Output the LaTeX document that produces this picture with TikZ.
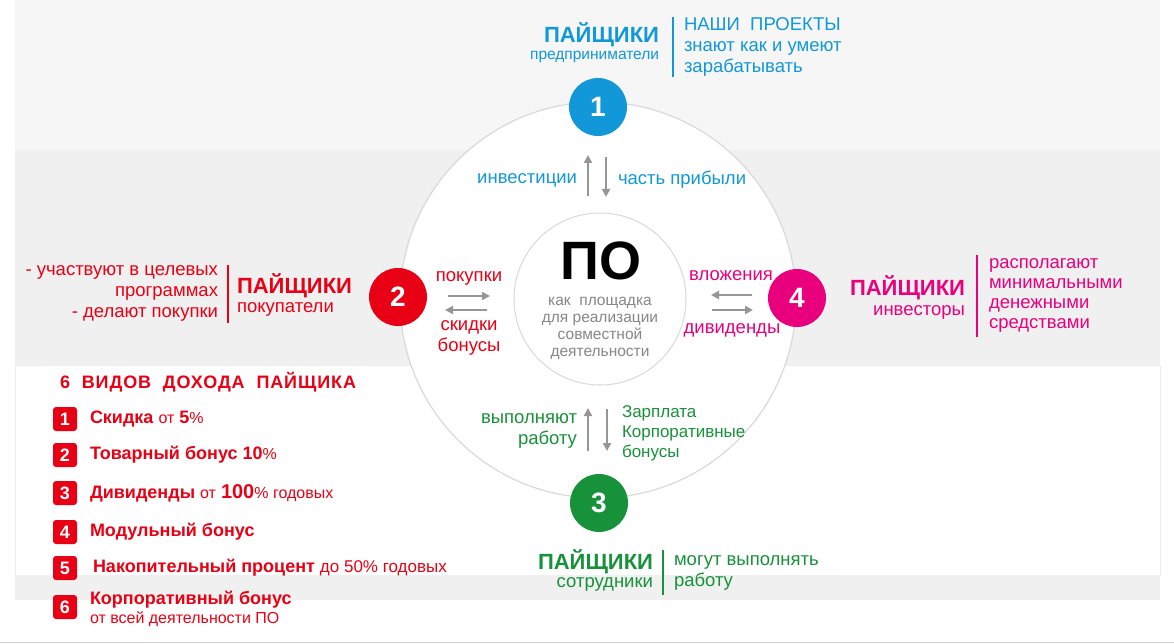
\documentclass[tikz,border=0pt]{standalone}
\usepackage{fontspec}
\setmainfont{Liberation Sans}
\newfontfamily\spacedfont[LetterSpace=5]{Liberation Sans}
\usetikzlibrary{arrows.meta}
\definecolor{pblue}{RGB}{18,152,216}
\definecolor{pred}{RGB}{232,0,20}
\definecolor{ppink}{RGB}{232,0,124}
\definecolor{pgreen}{RGB}{24,146,58}
\definecolor{pgray}{RGB}{135,135,135}
\definecolor{arrgray}{RGB}{150,150,150}
\definecolor{bgtop}{RGB}{246,246,246}
\definecolor{bgmid}{RGB}{240,240,240}
\newcommand\lite[1]{{\mdseries\fontsize{16}{18}\selectfont #1}}

\begin{document}
\begin{tikzpicture}[x=1pt, y=-1pt,
  every node/.style={inner sep=0pt, outer sep=0pt},
  title/.style={font=\bfseries\fontsize{22}{24}\selectfont},
  txt/.style={font=\fontsize{18.5}{21}\selectfont},
  gtxt/.style={font=\fontsize{15.5}{17}\selectfont, text=pgray},
  num/.style={circle, minimum size=58pt, text=white, font=\bfseries\fontsize{28}{30}\selectfont},
  badge/.style={fill=pred, rounded corners=3pt, minimum size=24pt, text=white, font=\bfseries\fontsize{18}{18}\selectfont},
  item/.style={anchor=west, text=pred, align=left, font=\bfseries\fontsize{18}{19}\selectfont},
  flow/.style={draw=arrgray, line width=2pt, -{Triangle[length=8pt,width=8pt]}},
  sep/.style={line width=1.5pt}]
  % Background bands
  \useasboundingbox (0,0) rectangle (1174,644);
  \fill[white] (0,0) rectangle (1174,644);
  \fill[bgtop] (15,0) rectangle (1160,150);
  \fill[bgmid] (15,150) rectangle (1160,365);
  \filldraw[fill=white, draw=black!7] (15,365) rectangle (1160,575);
  \fill[bgmid] (15,575) rectangle (1160,600);
  \draw[black!18] (0,642) -- (1174,642);

  % Ring and centre
  \filldraw[fill=white, draw=black!15, line width=1.2pt] (598,300) circle (198);
  \filldraw[fill=white, draw=black!15, line width=1pt] (600,299) circle (86);
  \node[font=\bfseries\fontsize{54}{54}\selectfont] (po) at (601,261) {ПО};
  \node[gtxt, align=center] (pol) at (600,328) {как\ \ площадка\\для реализации\\совместной\\деятельности};

  % Numbered circles
  \node[num, fill=pblue] (c1) at (598,107) {1};
  \node[num, fill=pred] (c2) at (398,297) {2};
  \node[num, fill=pgreen] (c3) at (599,503) {3};
  \node[num, fill=ppink] (c4) at (797,298) {4};

  % Flows 1
  \coordinate (u1a) at (588,196); \coordinate (u1b) at (588,155);
  \coordinate (d1a) at (606,157); \coordinate (d1b) at (606,197);
  \draw[flow] (u1a) -- (u1b);
  \draw[flow] (d1a) -- (d1b);
  \node[txt, text=pblue, anchor=east] (inv) at (577,180) {инвестиции};
  \node[txt, text=pblue, anchor=west] (prof) at (618,180) {часть прибыли};

  % Flows 2
  \coordinate (r2a) at (448,296); \coordinate (r2b) at (490,296);
  \coordinate (l2a) at (487,310); \coordinate (l2b) at (445,310);
  \draw[flow] (r2a) -- (r2b);
  \draw[flow] (l2a) -- (l2b);
  \node[txt, text=pred] (buy) at (469,278) {покупки};
  \node[txt, text=pred, align=center] (disc) at (469,338) {скидки\\бонусы};

  % Flows 4
  \coordinate (l4a) at (752,295); \coordinate (l4b) at (711,295);
  \coordinate (r4a) at (712,310); \coordinate (r4b) at (753,310);
  \draw[flow] (l4a) -- (l4b);
  \draw[flow] (r4a) -- (r4b);
  \node[txt, text=ppink] (put) at (731,276) {вложения};
  \node[txt, text=ppink] (div) at (732,330) {дивиденды};

  % Flows 3
  \coordinate (u3a) at (588,451); \coordinate (u3b) at (588,408);
  \coordinate (d3a) at (607,409); \coordinate (d3b) at (607,451);
  \draw[flow] (u3a) -- (u3b);
  \draw[flow] (d3a) -- (d3b);
  \node[txt, text=pgreen, anchor=east, align=right] (work) at (577,431) {выполняют\\работу};
  \node[text=pgreen, anchor=west, align=left, font=\fontsize{17}{20}\selectfont] (pay) at (622,433) {Зарплата\\Корпоративные\\бонусы};

  % Group 1
  \node[title, text=pblue, anchor=east] (g1) at (659,35) {ПАЙЩИКИ};
  \node[gtxt, text=pblue, anchor=east] (g1s) at (659,57) {предприниматели};
  \draw[sep, pblue] (673,17) -- (673,77);
  \node[txt, text=pblue, anchor=west, align=left] (g1r) at (684,47) {НАШИ\ \ ПРОЕКТЫ\\знают как и умеют\\зарабатывать};

  % Group 2
  \node[txt, text=pred, anchor=east, align=right] (g2l) at (218,293) {- участвуют в целевых\\программах\\- делают покупки};
  \draw[sep, pred] (228,265) -- (228,323);
  \node[title, text=pred, anchor=west] (g2) at (237,286) {ПАЙЩИКИ};
  \node[txt, text=pred, anchor=west] (g2s) at (237,309) {покупатели};

  % Group 4
  \node[title, text=ppink, anchor=east] (g4) at (965,288) {ПАЙЩИКИ};
  \node[txt, text=ppink, anchor=east] (g4s) at (965,312) {инвесторы};
  \draw[sep, ppink] (977,255) -- (977,337);
  \node[text=ppink, anchor=west, align=left, font=\fontsize{18.5}{20}\selectfont] (g4r) at (989,295) {располагают\\минимальными\\денежными\\средствами};

  % Group 3
  \node[title, text=pgreen, anchor=east] (g3) at (653,562) {ПАЙЩИКИ};
  \node[txt, text=pgreen, anchor=east] (g3s) at (653,584) {сотрудники};
  \draw[sep, pgreen] (663,550) -- (663,595);
  \node[txt, text=pgreen, anchor=west, align=left] (g3r) at (674,573) {могут выполнять\\работу};

  % Income list
  \node[anchor=west, text=pred, font=\spacedfont\bfseries\fontsize{18}{20}\selectfont] (list) at (60,382) {6\ \ ВИДОВ\ \ ДОХОДА\ \ ПАЙЩИКА};
  \node[badge] (b1) at (65,419) {1};
  \node[badge] (b2) at (65,455) {2};
  \node[badge] (b3) at (65,493) {3};
  \node[badge] (b4) at (65,532) {4};
  \node[badge] (b5) at (65,568) {5};
  \node[badge] (b6) at (65,607) {6};
  \node[item] (i1) at (90,419) {Скидка \lite{от} 5\lite{\%}};
  \node[item] (i2) at (90,455) {Товарный бонус 10\lite{\%}};
  \node[item] (i3) at (90,493) {Дивиденды \lite{от} {\fontsize{20}{20}\selectfont 100}\lite{\% годовых}};
  \node[item] (i4) at (90,532) {Модульный бонус};
  \node[item] (i5) at (93,568) {Накопительный процент {\mdseries\fontsize{17}{18}\selectfont до 50\% годовых}};
  \node[item] (i6) at (90,609) {Корпоративный бонус\\\lite{от всей деятельности ПО}};
\end{tikzpicture}
\end{document}
